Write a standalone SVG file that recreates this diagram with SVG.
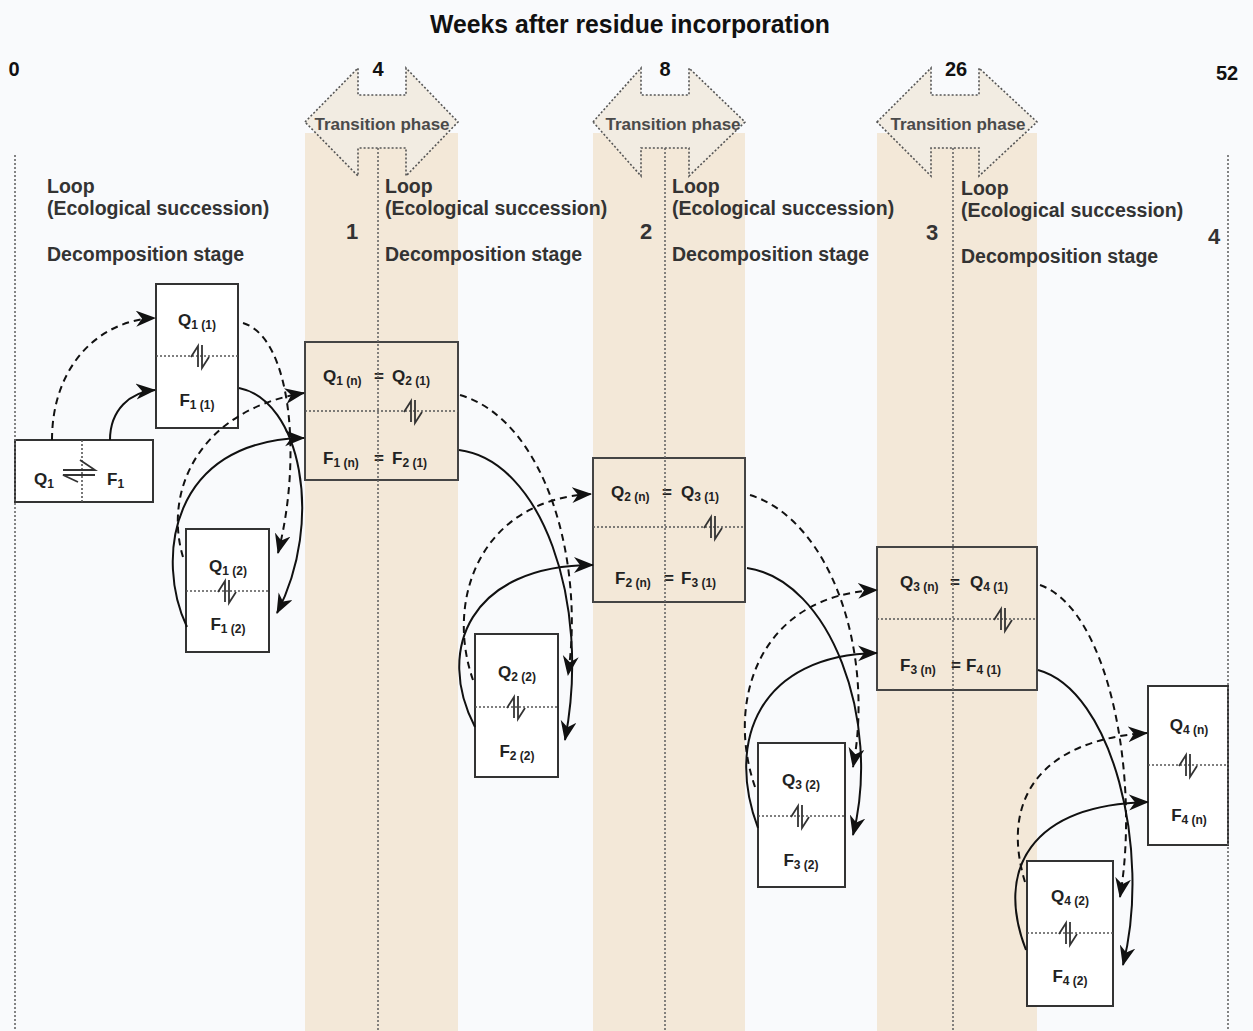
<svg xmlns="http://www.w3.org/2000/svg" width="1253" height="1031" viewBox="0 0 1253 1031">
<defs>
<style>
.band{fill:#f3e8d8}
.tp{fill:#f2ece2;stroke:#555;stroke-width:1.6;stroke-dasharray:2,2}
.tpt{font-family:"Liberation Sans",Arial,sans-serif;font-weight:bold;font-size:17px;fill:#4a4a4a;text-anchor:middle}
.vl{stroke:#666;stroke-width:1.6;stroke-dasharray:2,2;fill:none}
.box{fill:#fff;stroke:#333;stroke-width:2}
.tbox{fill:#f3e8d8;stroke:#444;stroke-width:2}
.div{stroke:#555;stroke-width:1.6;stroke-dasharray:2,2;fill:none}
.eq{stroke:#333;stroke-width:1.8;fill:none}
.lbl{font-family:"Liberation Sans",Arial,sans-serif;font-weight:bold;font-size:17px;fill:#222}
.sub{font-size:12px}
.stage{font-family:"Liberation Sans",Arial,sans-serif;font-weight:bold;font-size:19.5px;fill:#333}
.num{font-family:"Liberation Sans",Arial,sans-serif;font-weight:bold;font-size:22px;fill:#333;text-anchor:middle}
.wk{font-family:"Liberation Sans",Arial,sans-serif;font-weight:bold;font-size:20px;fill:#111;text-anchor:middle}
.title{font-family:"Liberation Sans",Arial,sans-serif;font-weight:bold;font-size:25px;fill:#111;text-anchor:middle}
.c{fill:none;stroke:#111;stroke-width:2;marker-end:url(#ah)}
.d{stroke-dasharray:7,5}
</style>
<marker id="ah" markerUnits="userSpaceOnUse" markerWidth="22" markerHeight="18" refX="19" refY="8" orient="auto">
<path d="M0,0 L20,8 L0,16 L6,8 z" fill="#111"/>
</marker>
</defs>
<rect width="1253" height="1031" fill="#f9fafc"/>
<!-- bands -->
<rect class="band" x="305" y="133" width="153" height="898"/>
<rect class="band" x="593" y="133" width="152" height="898"/>
<rect class="band" x="877" y="133" width="160" height="898"/>
<!-- title & week labels -->
<text class="title" x="630" y="33" textLength="400" lengthAdjust="spacingAndGlyphs">Weeks after residue incorporation</text>
<text class="wk" x="14" y="76">0</text>
<text class="wk" x="378" y="76">4</text>
<text class="wk" x="665" y="76">8</text>
<text class="wk" x="956" y="76">26</text>
<text class="wk" x="1227" y="80">52</text>
<!-- transition phases -->
<g id="transition1">
<polygon class="tp" points="305,122 358,68 358,95 406,95 406,68 458,122 406,176 406,148 358,148 358,176"/>
<text class="tpt" x="382" y="130">Transition phase</text>
</g>
<g id="transition2">
<polygon class="tp" points="593,122 641,68 641,95 689,95 689,68 745,122 689,176 689,148 641,148 641,176"/>
<text class="tpt" x="673" y="130">Transition phase</text>
</g>
<g id="transition3">
<polygon class="tp" points="877,122 931,68 931,95 979,95 979,68 1037,122 979,176 979,148 931,148 931,176"/>
<text class="tpt" x="958" y="130">Transition phase</text>
</g>
<!-- stage labels -->
<g id="stage1">
<text class="stage" x="47" y="193">Loop</text>
<text class="stage" x="47" y="215">(Ecological succession)</text>
<text class="stage" x="47" y="261">Decomposition stage</text>
</g>
<g id="stage2">
<text class="stage" x="385" y="193">Loop</text>
<text class="stage" x="385" y="215">(Ecological succession)</text>
<text class="stage" x="385" y="261">Decomposition stage</text>
</g>
<g id="stage3">
<text class="stage" x="672" y="193">Loop</text>
<text class="stage" x="672" y="215">(Ecological succession)</text>
<text class="stage" x="672" y="261">Decomposition stage</text>
</g>
<g id="stage4">
<text class="stage" x="961" y="195">Loop</text>
<text class="stage" x="961" y="217">(Ecological succession)</text>
<text class="stage" x="961" y="263">Decomposition stage</text>
</g>
<text class="num" x="352" y="239">1</text>
<text class="num" x="646" y="239">2</text>
<text class="num" x="932" y="240">3</text>
<text class="num" x="1214" y="244">4</text>
<!-- nodes -->
<g id="q1f1">
<rect class="box" x="15" y="440" width="138" height="62"/>
<line class="div" x1="82" y1="440" x2="82" y2="502"/>
<path class="eq" d="M63,470 L95,470 L80,460 M95,475 L63,475 L78,482"/>
<text class="lbl" x="34" y="485">Q<tspan class="sub" dy="3">1</tspan></text>
<text class="lbl" x="107" y="485">F<tspan class="sub" dy="3">1</tspan></text>
</g>
<g id="q1_1">
<rect class="box" x="156" y="284" width="82" height="144"/>
<line class="div" x1="156" y1="356" x2="238" y2="356"/>
<path class="eq" d="M191,357 L198,346 L198,367 M202,345 L202,368 L209,357"/>
<text class="lbl" x="197" y="326" text-anchor="middle">Q<tspan class="sub" dy="3">1 (1)</tspan></text>
<text class="lbl" x="197" y="406" text-anchor="middle">F<tspan class="sub" dy="3">1 (1)</tspan></text>
</g>
<g id="q1_2">
<rect class="box" x="186" y="529" width="83" height="123"/>
<line class="div" x1="186" y1="591" x2="269" y2="591"/>
<path class="eq" d="M218,592 L225,581 L225,602 M229,580 L229,603 L236,592"/>
<text class="lbl" x="228" y="572" text-anchor="middle">Q<tspan class="sub" dy="3">1 (2)</tspan></text>
<text class="lbl" x="228" y="630" text-anchor="middle">F<tspan class="sub" dy="3">1 (2)</tspan></text>
</g>
<g id="t1">
<rect class="tbox" x="305" y="342" width="153" height="138"/>
<line class="div" x1="305" y1="411" x2="458" y2="411"/>
<path class="eq" d="M404,412 L411,401 L411,422 M415,400 L415,423 L422,412"/>
<text class="lbl" x="323" y="382">Q<tspan class="sub" dy="3">1 (n)</tspan></text>
<text class="lbl" x="374" y="382">=</text>
<text class="lbl" x="392" y="382">Q<tspan class="sub" dy="3">2 (1)</tspan></text>
<text class="lbl" x="323" y="464">F<tspan class="sub" dy="3">1 (n)</tspan></text>
<text class="lbl" x="374" y="464">=</text>
<text class="lbl" x="392" y="464">F<tspan class="sub" dy="3">2 (1)</tspan></text>
</g>
<g id="q2_2">
<rect class="box" x="475" y="634" width="83" height="143"/>
<line class="div" x1="475" y1="707" x2="558" y2="707"/>
<path class="eq" d="M507,708 L514,697 L514,718 M518,696 L518,719 L525,708"/>
<text class="lbl" x="517" y="678" text-anchor="middle">Q<tspan class="sub" dy="3">2 (2)</tspan></text>
<text class="lbl" x="517" y="757" text-anchor="middle">F<tspan class="sub" dy="3">2 (2)</tspan></text>
</g>
<g id="t2">
<rect class="tbox" x="593" y="458" width="152" height="144"/>
<line class="div" x1="593" y1="527" x2="745" y2="527"/>
<path class="eq" d="M704,528 L711,517 L711,538 M715,516 L715,539 L722,528"/>
<text class="lbl" x="611" y="498">Q<tspan class="sub" dy="3">2 (n)</tspan></text>
<text class="lbl" x="662" y="498">=</text>
<text class="lbl" x="681" y="498">Q<tspan class="sub" dy="3">3 (1)</tspan></text>
<text class="lbl" x="615" y="584">F<tspan class="sub" dy="3">2 (n)</tspan></text>
<text class="lbl" x="664" y="584">=</text>
<text class="lbl" x="681" y="584">F<tspan class="sub" dy="3">3 (1)</tspan></text>
</g>
<g id="q3_2">
<rect class="box" x="758" y="743" width="87" height="144"/>
<line class="div" x1="758" y1="816" x2="845" y2="816"/>
<path class="eq" d="M791,817 L798,806 L798,827 M802,805 L802,828 L809,817"/>
<text class="lbl" x="801" y="786" text-anchor="middle">Q<tspan class="sub" dy="3">3 (2)</tspan></text>
<text class="lbl" x="801" y="866" text-anchor="middle">F<tspan class="sub" dy="3">3 (2)</tspan></text>
</g>
<g id="t3">
<rect class="tbox" x="877" y="547" width="160" height="143"/>
<line class="div" x1="877" y1="619" x2="1037" y2="619"/>
<path class="eq" d="M994,620 L1001,609 L1001,630 M1005,608 L1005,631 L1012,620"/>
<text class="lbl" x="900" y="588">Q<tspan class="sub" dy="3">3 (n)</tspan></text>
<text class="lbl" x="950" y="588">=</text>
<text class="lbl" x="970" y="588">Q<tspan class="sub" dy="3">4 (1)</tspan></text>
<text class="lbl" x="900" y="671">F<tspan class="sub" dy="3">3 (n)</tspan></text>
<text class="lbl" x="951" y="671">=</text>
<text class="lbl" x="966" y="671">F<tspan class="sub" dy="3">4 (1)</tspan></text>
</g>
<g id="q4_2">
<rect class="box" x="1027" y="861" width="86" height="145"/>
<line class="div" x1="1027" y1="933" x2="1113" y2="933"/>
<path class="eq" d="M1059,934 L1066,923 L1066,944 M1070,922 L1070,945 L1077,934"/>
<text class="lbl" x="1070" y="902" text-anchor="middle">Q<tspan class="sub" dy="3">4 (2)</tspan></text>
<text class="lbl" x="1070" y="982" text-anchor="middle">F<tspan class="sub" dy="3">4 (2)</tspan></text>
</g>
<g id="q4_n">
<rect class="box" x="1148" y="686" width="80" height="159"/>
<line class="div" x1="1148" y1="765" x2="1228" y2="765"/>
<path class="eq" d="M1179,766 L1186,755 L1186,776 M1190,754 L1190,777 L1197,766"/>
<text class="lbl" x="1189" y="731" text-anchor="middle">Q<tspan class="sub" dy="3">4 (n)</tspan></text>
<text class="lbl" x="1189" y="821" text-anchor="middle">F<tspan class="sub" dy="3">4 (n)</tspan></text>
</g>
<!-- time lines -->
<g id="timelines">
<line class="vl" x1="15" y1="155" x2="15" y2="1031"/>
<line class="vl" x1="378" y1="148" x2="378" y2="1031"/>
<line class="vl" x1="665" y1="148" x2="665" y2="1031"/>
<line class="vl" x1="953" y1="148" x2="953" y2="1031"/>
<line class="vl" x1="1228" y1="155" x2="1228" y2="1031"/>
</g>
<!-- connectors -->
<g id="connectors">
<path class="c d" d="M52,440 C52,365 100,320 155,318"/>
<path class="c" d="M110,440 C110,410 130,392 155,390"/>
<path class="c d" d="M243,323 C292,338 302,460 278,553"/>
<path class="c" d="M239,388 C300,400 325,520 277,613"/>
<path class="c d" d="M183,557 C163,490 200,410 304,393"/>
<path class="c" d="M187,627 C155,560 170,440 304,438"/>

<path class="c d" d="M460,395 C545,420 585,560 568,675"/>
<path class="c" d="M459,450 C540,460 592,600 565,740"/>
<path class="c d" d="M473,680 C445,600 480,500 591,494"/>
<path class="c" d="M475,727 C435,650 470,565 593,565"/>

<path class="c d" d="M750,495 C830,520 875,650 853,767"/>
<path class="c" d="M747,568 C830,580 882,720 853,835"/>
<path class="c d" d="M755,787 C725,700 760,595 877,590"/>
<path class="c" d="M758,828 C725,740 760,655 877,653"/>

<path class="c d" d="M1040,585 C1110,610 1140,780 1120,897"/>
<path class="c" d="M1038,670 C1112,690 1152,850 1123,965"/>
<path class="c d" d="M1025,882 C1000,800 1040,740 1147,733"/>
<path class="c" d="M1026,950 C995,870 1030,805 1148,802"/>
</g>
</svg>
